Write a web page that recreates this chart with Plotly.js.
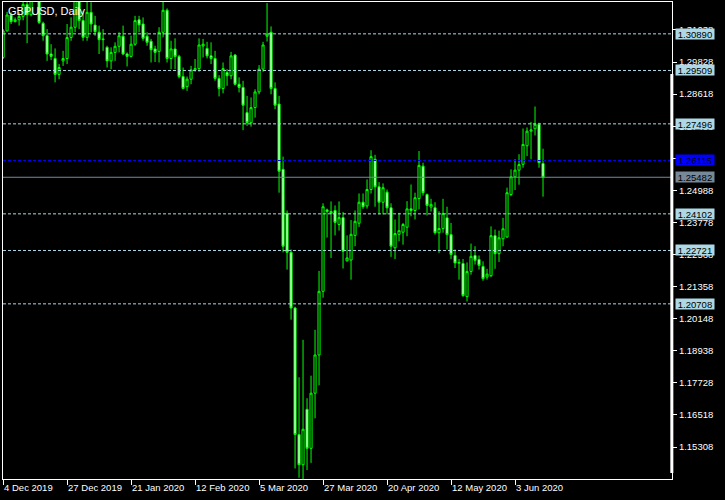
<!DOCTYPE html>
<html>
<head>
<meta charset="utf-8">
<script src="https://cdn.plot.ly/plotly-3.0.1.min.js"></script>
<style>html,body{margin:0;padding:0;background:#000;}#chart{width:725px;height:500px;}</style>
</head>
<body>
<div id="chart"></div>
<script>
// ---- data ----
const dates = ["2019.12.04","2019.12.05","2019.12.06","2019.12.09","2019.12.10","2019.12.11","2019.12.12","2019.12.13","2019.12.16","2019.12.17",
"2019.12.18","2019.12.19","2019.12.20","2019.12.23","2019.12.24","2019.12.26","2019.12.27","2019.12.30","2019.12.31","2020.01.02",
"2020.01.03","2020.01.06","2020.01.07","2020.01.08","2020.01.09","2020.01.10","2020.01.13","2020.01.14","2020.01.15","2020.01.16",
"2020.01.17","2020.01.20","2020.01.21","2020.01.22","2020.01.23","2020.01.24","2020.01.27","2020.01.28","2020.01.29","2020.01.30",
"2020.01.31","2020.02.03","2020.02.04","2020.02.05","2020.02.06","2020.02.07","2020.02.10","2020.02.11","2020.02.12","2020.02.13",
"2020.02.14","2020.02.17","2020.02.18","2020.02.19","2020.02.20","2020.02.21","2020.02.24","2020.02.25","2020.02.26","2020.02.27",
"2020.02.28","2020.03.02","2020.03.03","2020.03.04","2020.03.05","2020.03.06","2020.03.09","2020.03.10","2020.03.11","2020.03.12",
"2020.03.13","2020.03.16","2020.03.17","2020.03.18","2020.03.19","2020.03.20","2020.03.23","2020.03.24","2020.03.25","2020.03.26",
"2020.03.27","2020.03.30","2020.03.31","2020.04.01","2020.04.02","2020.04.03","2020.04.06","2020.04.07","2020.04.08","2020.04.09",
"2020.04.10","2020.04.13","2020.04.14","2020.04.15","2020.04.16","2020.04.17","2020.04.20","2020.04.21","2020.04.22","2020.04.23",
"2020.04.24","2020.04.27","2020.04.28","2020.04.29","2020.04.30","2020.05.01","2020.05.04","2020.05.05","2020.05.06","2020.05.07",
"2020.05.08","2020.05.11","2020.05.12","2020.05.13","2020.05.14","2020.05.15","2020.05.18","2020.05.19","2020.05.20","2020.05.21",
"2020.05.22","2020.05.25","2020.05.26","2020.05.27","2020.05.28","2020.05.29","2020.06.01","2020.06.02","2020.06.03","2020.06.04",
"2020.06.05","2020.06.08","2020.06.09","2020.06.10","2020.06.11","2020.06.12"];

const open = [1.3000,1.3100,1.3160,1.3135,1.3142,1.3155,1.3200,1.3161,1.3330,1.3330,
1.3129,1.3082,1.3013,1.2996,1.2936,1.2987,1.2996,1.3075,1.3114,1.3255,
1.3139,1.3076,1.3170,1.3122,1.3095,1.3067,1.3038,1.2987,1.3019,1.3042,
1.3080,1.3013,1.3004,1.3050,1.3142,1.3126,1.3080,1.3061,1.3032,1.3023,
1.3095,1.3178,1.2996,1.3032,1.3004,1.2928,1.2890,1.2918,1.2953,1.2958,
1.3043,1.3034,1.3006,1.2996,1.2921,1.2883,1.2943,1.2931,1.3009,1.2899,
1.2887,1.2792,1.2754,1.2811,1.2870,1.2956,1.3080,1.3095,1.2883,1.2824,
1.2578,1.2412,1.2265,1.2055,1.1578,1.1464,1.1673,1.1526,1.1734,1.1878,
1.2118,1.2425,1.2419,1.2423,1.2370,1.2396,1.2233,1.2236,1.2329,1.2375,
1.2454,1.2440,1.2502,1.2616,1.2512,1.2454,1.2492,1.2433,1.2282,1.2333,
1.2341,1.2360,1.2429,1.2423,1.2468,1.2590,1.2483,1.2436,1.2433,1.2339,
1.2355,1.2395,1.2332,1.2253,1.2224,1.2223,1.2098,1.2193,1.2253,1.2238,
1.2212,1.2172,1.2177,1.2328,1.2260,1.2316,1.2323,1.2483,1.2550,1.2575,
1.2597,1.2667,1.2722,1.2731,1.2748,1.2600];

const high = [1.3107,1.3172,1.3170,1.3151,1.3170,1.3240,1.3235,1.3515,1.3415,1.3345,
1.3135,1.3107,1.3050,1.3034,1.2975,1.3025,1.3126,1.3151,1.3285,1.3280,
1.3176,1.3215,1.3208,1.3157,1.3120,1.3107,1.3044,1.3038,1.3057,1.3095,
1.3120,1.3019,1.3082,1.3157,1.3157,1.3151,1.3095,1.3070,1.3044,1.3114,
1.3230,1.3185,1.3063,1.3072,1.3010,1.2962,1.2928,1.2968,1.2994,1.3072,
1.3070,1.3059,1.3057,1.3025,1.2933,1.2981,1.2956,1.3021,1.3013,1.2925,
1.2912,1.2855,1.2849,1.2880,1.2971,1.3059,1.3205,1.3117,1.2906,1.2855,
1.2626,1.2423,1.2276,1.2060,1.1794,1.1935,1.1715,1.1800,1.1973,1.2195,
1.2450,1.2430,1.2457,1.2442,1.2457,1.2417,1.2329,1.2387,1.2423,1.2487,
1.2487,1.2540,1.2650,1.2633,1.2530,1.2525,1.2502,1.2450,1.2389,1.2414,
1.2376,1.2458,1.2521,1.2490,1.2647,1.2603,1.2487,1.2467,1.2454,1.2420,
1.2467,1.2437,1.2376,1.2276,1.2240,1.2240,1.2227,1.2298,1.2288,1.2253,
1.2231,1.2203,1.2363,1.2351,1.2347,1.2395,1.2509,1.2578,1.2616,1.2635,
1.2732,1.2736,1.2757,1.2815,1.2754,1.2656];

const low = [1.2994,1.3098,1.3126,1.3132,1.3120,1.3140,1.3054,1.3155,1.3300,1.3126,
1.3063,1.2987,1.2990,1.2906,1.2918,1.2968,1.2975,1.3063,1.3095,1.3107,
1.3063,1.3063,1.3095,1.3082,1.3013,1.3025,1.2962,1.2956,1.2987,1.3019,
1.3009,1.2966,1.3000,1.3044,1.3095,1.3063,1.3044,1.2981,1.2983,1.2981,
1.3076,1.2981,1.2956,1.2956,1.2921,1.2880,1.2874,1.2899,1.2946,1.2946,
1.3000,1.2996,1.2975,1.2912,1.2853,1.2865,1.2893,1.2918,1.2895,1.2868,
1.2726,1.2742,1.2739,1.2773,1.2861,1.2946,1.3060,1.2861,1.2805,1.2490,
1.2265,1.2200,1.2011,1.1450,1.1415,1.1410,1.1444,1.1471,1.1639,1.1764,
1.2094,1.2321,1.2244,1.2329,1.2347,1.2204,1.2230,1.2162,1.2288,1.2361,
1.2429,1.2430,1.2487,1.2437,1.2408,1.2408,1.2408,1.2248,1.2240,1.2307,
1.2294,1.2326,1.2401,1.2389,1.2427,1.2479,1.2404,1.2419,1.2332,1.2263,
1.2339,1.2276,1.2240,1.2206,1.2162,1.2097,1.2080,1.2181,1.2219,1.2200,
1.2158,1.2162,1.2172,1.2203,1.2229,1.2288,1.2320,1.2477,1.2500,1.2520,
1.2584,1.2628,1.2616,1.2706,1.2584,1.2475];

const close = [1.3100,1.3160,1.3135,1.3142,1.3155,1.3200,1.3161,1.3330,1.3330,1.3132,
1.3082,1.3013,1.3004,1.2936,1.2962,1.2996,1.3075,1.3114,1.3255,1.3139,
1.3076,1.3170,1.3126,1.3097,1.3067,1.3069,1.2987,1.3019,1.3042,1.3082,
1.3013,1.3004,1.3050,1.3139,1.3123,1.3072,1.3057,1.3029,1.3019,1.3095,
1.3178,1.2996,1.3032,1.3004,1.2928,1.2883,1.2918,1.2953,1.2958,1.3047,
1.3050,1.3006,1.2996,1.2921,1.2883,1.2958,1.2931,1.3006,1.2899,1.2887,
1.2820,1.2754,1.2811,1.2870,1.2956,1.3047,1.3088,1.2883,1.2820,1.2571,
1.2288,1.2265,1.2055,1.1578,1.1464,1.1598,1.1526,1.1734,1.1878,1.2118,
1.2437,1.2419,1.2412,1.2378,1.2396,1.2269,1.2244,1.2333,1.2382,1.2454,
1.2437,1.2502,1.2626,1.2512,1.2454,1.2509,1.2433,1.2288,1.2336,1.2347,
1.2370,1.2429,1.2423,1.2471,1.2593,1.2490,1.2442,1.2446,1.2339,1.2355,
1.2412,1.2332,1.2257,1.2225,1.2227,1.2102,1.2193,1.2250,1.2235,1.2216,
1.2166,1.2183,1.2328,1.2260,1.2320,1.2354,1.2490,1.2550,1.2575,1.2596,
1.2672,1.2722,1.2727,1.2748,1.2603,1.25482];

const xTickIndex = [0,16,32,48,64,80,96,112,128];
const xTickLabels = ["4 Dec 2019","27 Dec 2019","21 Jan 2020","12 Feb 2020","5 Mar 2020","27 Mar 2020","20 Apr 2020","12 May 2020","3 Jun 2020"];
const yTicks = [1.15308,1.16518,1.17728,1.18938,1.20148,1.21358,1.22568,1.23778,1.24988,1.26198,1.27408,1.28618,1.29828,1.31038];
const levels = [1.30890,1.29509,1.27496,1.24102,1.22721,1.20708];
const blueLevel = 1.26115;
const bidLevel = 1.25482;
const chartTitle = "GBPUSD, Daily";

// ---- chart ----
const FONT = "Liberation Sans, Arial, sans-serif";
const trace = {
  type: 'candlestick',
  x: dates, open: open, high: high, low: low, close: close,
  increasing: {line: {color: '#00ff00', width: 1}, fillcolor: '#000000'},
  decreasing: {line: {color: '#00ff00', width: 1}, fillcolor: '#ffffff'},
  whiskerwidth: 0,
  hoverinfo: 'skip'
};

const shapes = [];
levels.forEach(v => shapes.push({type:'line', xref:'paper', x0:0, x1:1, yref:'y', y0:v, y1:v,
  line:{color:'#add8e6', width:1, dash:'3px,2px'}}));
shapes.push({type:'line', xref:'paper', x0:0, x1:1, yref:'y', y0:blueLevel, y1:blueLevel,
  line:{color:'#0000ff', width:1, dash:'3px,2px'}});
shapes.push({type:'line', xref:'paper', x0:0, x1:1, yref:'y', y0:bidLevel, y1:bidLevel,
  line:{color:'#778899', width:1}});
// scale bar on the right border
shapes.push({type:'rect', xref:'paper', x0:0.9975, x1:1.002, yref:'y', y0:1.14329, y1:1.29375,
  fillcolor:'#ffffff', line:{width:0}});

const annotations = [];
function lvlLabel(v, bg, fg){
  annotations.push({xref:'paper', x:1.0045, xanchor:'left', yref:'y', y:v, yanchor:'middle',
    text:v.toFixed(5), showarrow:false, bgcolor:bg, borderpad:0, width:38, height:10,
    font:{family:FONT, size:9.5, color:fg}});
}
levels.forEach(v => lvlLabel(v, '#add8e6', '#000000'));
lvlLabel(blueLevel, '#0000ff', '#000000');
lvlLabel(bidLevel, '#778899', '#000000');
annotations.push({xref:'paper', x:0.005, xanchor:'left', yref:'paper', y:0.997, yanchor:'top',
  text:chartTitle, showarrow:false, font:{family:FONT, size:11, color:'#ffffff'}});

const layout = {
  width:725, height:500,
  paper_bgcolor:'#000000', plot_bgcolor:'#000000',
  margin:{l:3, r:53, t:2, b:21, pad:0},
  showlegend:false,
  boxgap:0.25,
  xaxis:{type:'category', range:[-0.02, 167.25], showgrid:false, zeroline:false,
    showline:true, mirror:true, linecolor:'#ffffff', linewidth:1,
    ticks:'outside', ticklen:5, tickcolor:'#ffffff', tickwidth:1,
    tickvals: xTickIndex.map(i => dates[i]), ticktext: xTickLabels,
    ticklabelposition:'outside right',
    tickfont:{family:FONT, size:9.5, color:'#ffffff'},
    rangeslider:{visible:false}, fixedrange:true},
  yaxis:{side:'right', range:[1.14103, 1.32091], showgrid:false, zeroline:false,
    showline:true, mirror:true, linecolor:'#ffffff', linewidth:1,
    ticks:'outside', ticklen:4, tickcolor:'#ffffff',
    tickvals:yTicks, tickformat:'.5f',
    tickfont:{family:FONT, size:9.5, color:'#ffffff'}, fixedrange:true},
  shapes:shapes,
  annotations:annotations
};

Plotly.newPlot('chart', [trace], layout, {staticPlot:true, displayModeBar:false});
</script>
</body>
</html>
